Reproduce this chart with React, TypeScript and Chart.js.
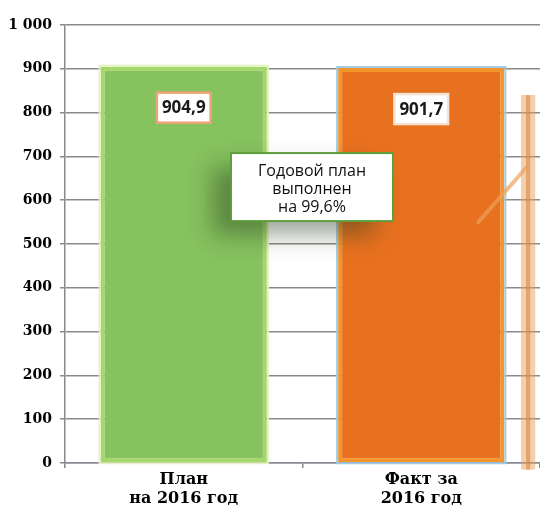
import React, { useEffect, useRef } from "react";
import { Chart, registerables } from "chart.js";

Chart.register(...registerables);

const categories: string[][] = [["План", "на 2016 год"], ["Факт за", "2016 год"]];
const values: number[] = [904.9, 901.7];
const valueLabels: string[] = ["904,9", "901,7"];
const yMin = 0;
const yMax = 1000;
const yStep = 100;
const barColors: string[] = ["#86c25e", "#e8711f"];
const barBorderColors: string[] = ["#a6d76a", "#f3952a"];
const outlineColors: string[] = ["#e4f2c0", "#9fcbe8"];
const labelBoxBorders: string[] = ["#eea37a", "#f4e2d4"];
const noteLines: string[] = ["Годовой план", "выполнен", "на 99,6%"];
const notePos = { x: 0.54, y: 630 };
const decoStripe = { x0: 1.42, x1: 1.48, yTop: 840, yBottom: -15 };
const decoLine: number[][] = [[1.24, 550], [1.44, 673]];

function fmtTick(v: number): string {
  const s = String(Math.round(v));
  return s.replace(/\B(?=(\d{3})+(?!\d))/g, " ");
}

const decorPlugin = {
  id: "decor",
  beforeDatasetsDraw(chart: any) {
    const ctx = chart.ctx;
    const meta = chart.getDatasetMeta(0);
    meta.data.forEach((bar: any, i: number) => {
      const w = bar.width;
      const left = bar.x - w / 2;
      const top = bar.y;
      const bottom = bar.base;
      ctx.save();
      ctx.strokeStyle = outlineColors[i];
      ctx.lineWidth = 2;
      ctx.strokeRect(left - 1, top - 1, w + 2, bottom - top + 2);
      ctx.restore();
    });
  },
  afterDatasetsDraw(chart: any) {
    const ctx = chart.ctx;
    const xs = chart.scales.x;
    const ys = chart.scales.y;
    const meta = chart.getDatasetMeta(0);
    // value labels
    meta.data.forEach((bar: any, i: number) => {
      ctx.save();
      ctx.font = "bold 17px 'Open Sans'";
      const tw = ctx.measureText(valueLabels[i]).width;
      const bw = tw + 10;
      const bh = 30;
      const cx = bar.x;
      const cy = bar.y + 41;
      ctx.fillStyle = "#ffffff";
      ctx.fillRect(cx - bw / 2, cy - bh / 2, bw, bh);
      ctx.strokeStyle = labelBoxBorders[i];
      ctx.lineWidth = 2.5;
      ctx.strokeRect(cx - bw / 2, cy - bh / 2, bw, bh);
      ctx.fillStyle = "#1a1a1a";
      ctx.textAlign = "center";
      ctx.textBaseline = "middle";
      ctx.fillText(valueLabels[i], cx, cy + 1);
      ctx.restore();
    });
    // decorative stripe at right
    ctx.save();
    const sx0 = xs.getPixelForValue(decoStripe.x0);
    const sx1 = xs.getPixelForValue(decoStripe.x1);
    const sy0 = ys.getPixelForValue(decoStripe.yTop);
    const sy1 = ys.getPixelForValue(decoStripe.yBottom);
    ctx.fillStyle = "rgba(232,160,90,0.5)";
    ctx.fillRect(sx0, sy0, sx1 - sx0, sy1 - sy0);
    ctx.fillStyle = "rgba(215,130,60,0.55)";
    ctx.fillRect(sx0 + (sx1 - sx0) * 0.35, sy0, (sx1 - sx0) * 0.3, sy1 - sy0);
    ctx.strokeStyle = "rgba(240,160,90,0.7)";
    ctx.lineWidth = 4;
    ctx.lineCap = "round";
    ctx.beginPath();
    ctx.moveTo(xs.getPixelForValue(decoLine[0][0]), ys.getPixelForValue(decoLine[0][1]));
    ctx.lineTo(xs.getPixelForValue(decoLine[1][0]), ys.getPixelForValue(decoLine[1][1]));
    ctx.stroke();
    ctx.restore();
    // note box
    ctx.save();
    const nx = xs.getPixelForValue(notePos.x);
    const ny = ys.getPixelForValue(notePos.y);
    const nw = 162;
    const nh = 68;
    ctx.shadowColor = "rgba(40,60,30,0.45)";
    ctx.shadowBlur = 22;
    ctx.shadowOffsetX = -18;
    ctx.shadowOffsetY = 14;
    ctx.fillStyle = "#ffffff";
    ctx.fillRect(nx - nw / 2, ny - nh / 2, nw, nh);
    ctx.shadowColor = "transparent";
    ctx.strokeStyle = "#5f9e3c";
    ctx.lineWidth = 2;
    ctx.strokeRect(nx - nw / 2, ny - nh / 2, nw, nh);
    ctx.fillStyle = "#111111";
    ctx.font = "16px 'Open Sans'";
    ctx.textAlign = "center";
    ctx.textBaseline = "middle";
    noteLines.forEach((t, k) => {
      ctx.fillText(t, nx, ny - 16 + k * 18);
    });
    ctx.restore();
  },
};

export default function App() {
  const ref = useRef<HTMLCanvasElement | null>(null);
  useEffect(() => {
    if (!ref.current) return;
    const chart = new Chart(ref.current, {
      type: "bar",
      data: {
        labels: categories,
        datasets: [
          {
            data: values,
            backgroundColor: barColors,
            borderColor: barBorderColors,
            borderWidth: 4,
            borderSkipped: false,
            barPercentage: 0.7,
            categoryPercentage: 1,
          },
        ],
      },
      options: {
        animation: false,
        responsive: false,
        maintainAspectRatio: false,
        layout: { padding: { top: 25, left: 0, right: 0, bottom: 0 } },
        plugins: { legend: { display: false }, tooltip: { enabled: false } },
        scales: {
          x: {
            offset: true,
            grid: {
              display: true,
              drawOnChartArea: false,
              drawTicks: true,
              tickLength: 5,
              color: "#8a8a8a",
              lineWidth: 1.5,
              offset: true,
            },
            border: { display: true, color: "#8a8a9a", width: 1.5 },
            ticks: {
              color: "#000000",
              padding: 2,
              font: { family: "'DejaVu Serif'", size: 16, weight: "bold", lineHeight: 1.2 },
            },
            afterFit(scale: any) {
              scale.height = 42;
            },
          },
          y: {
            min: yMin,
            max: yMax,
            grid: {
              color: "#8a8a8a",
              lineWidth: 1.5,
              tickLength: 5,
            },
            border: { display: true, color: "#8a8a8a", width: 1.5 },
            ticks: {
              stepSize: yStep,
              padding: 8,
              color: "#000000",
              font: { family: "'DejaVu Serif'", size: 14, weight: "bold" },
              callback: (v: any) => fmtTick(Number(v)),
            },
            afterFit(scale: any) {
              scale.width = 65;
            },
          },
        },
      },
      plugins: [decorPlugin],
    } as any);
    return () => chart.destroy();
  }, []);
  return (
    <div style={{ position: "fixed", left: 0, top: 0, width: 540, height: 505, overflow: "hidden", background: "#ffffff" }}>
      <canvas ref={ref} width={540} height={505} style={{ display: "block", width: 540, height: 505 }} />
    </div>
  );
}
